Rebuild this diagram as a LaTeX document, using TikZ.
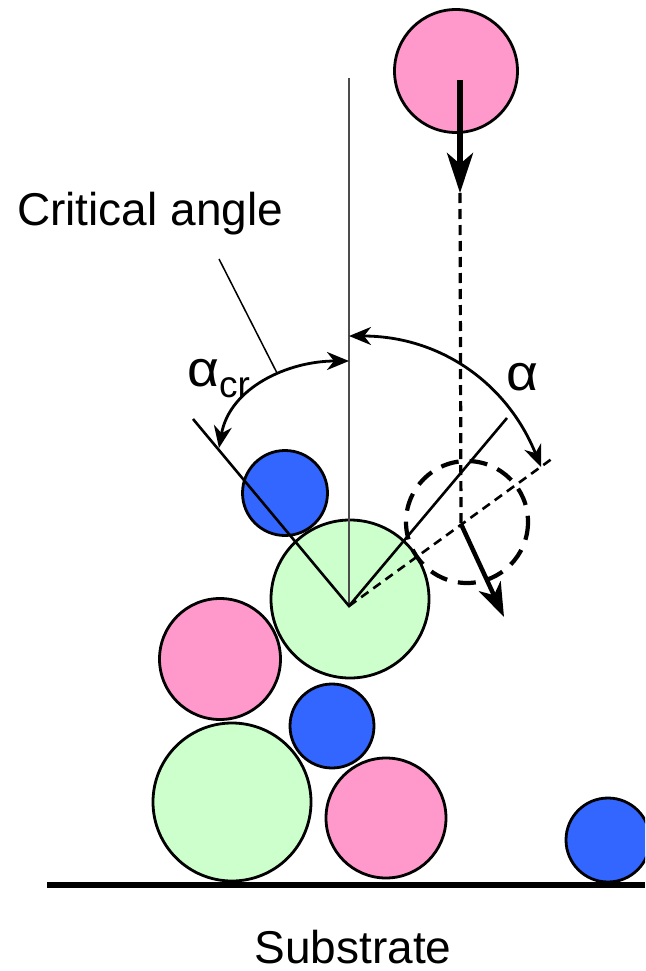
\documentclass[tikz,border=0pt]{standalone}
\usepackage{fontspec}
\setmainfont{Liberation Sans}
\usetikzlibrary{arrows.meta}
\definecolor{ppink}{HTML}{FF99CC}
\definecolor{pgreen}{HTML}{CCFFCC}
\definecolor{pblue}{HTML}{3366FF}
\tikzset{
  particle/.style={circle, draw=black, line width=2.8pt, inner sep=0, minimum size=#1},
  bigtext/.style={font=\fontsize{46}{55}\selectfont, inner sep=0},
  arcarrow/.style={line width=2.8pt, {Stealth[length=22pt,width=18pt,inset=7pt]}-{Stealth[length=22pt,width=18pt,inset=7pt]}},
  bigarrow/.style={line width=5.5pt, -{Stealth[length=40pt,width=26pt,inset=11pt]}},
  medarrow/.style={line width=4.5pt, -{Stealth[length=34pt,width=24pt,inset=10pt]}},
}
\begin{document}
\begin{tikzpicture}[x=1pt,y=-1pt]
\clip (0,0) rectangle (645,971);
\useasboundingbox (0,0) rectangle (645,971);

% particles
\node[particle=123, fill=ppink] (fall) at (456,71) {};
\node[particle=85, fill=pblue] (b1) at (285,493) {};
\node[particle=158, fill=pgreen] (g1) at (350,599) {};
\node[particle=121, fill=ppink] (p2) at (220,659) {};
\node[particle=84, fill=pblue] (b2) at (332,726) {};
\node[particle=158, fill=pgreen] (g2) at (232,802) {};
\node[particle=120, fill=ppink] (p3) at (386,818) {};
\node[particle=84, fill=pblue] (b3) at (608,840) {};

% key points
\coordinate (V) at (349,606);
\coordinate (T) at (349,78);
\coordinate (L) at (193,419);
\coordinate (R) at (507,418);
\coordinate (D) at (553,458);
\coordinate (F0) at (460,80);
\coordinate (F1) at (460,193);
\coordinate (P) at (461,524);
\coordinate (Q) at (504,617);
\coordinate (crA) at (219,448);
\coordinate (crB) at (349,361);
\coordinate (aA) at (349,336);
\coordinate (aB) at (541,467);
\coordinate (ldA) at (219,259);
\coordinate (ldB) at (277,373);
\coordinate (sL) at (47,885);
\coordinate (sR) at (645,885);

% dashed contact particle
\draw[line width=4.2pt, dash pattern=on 18pt off 11pt] (467,522) circle (61);

% vertical reference line
\draw[line width=1.8pt, black!70] (T) -- (V);

% angle lines
\draw[line width=2.6pt] (L) -- (V) -- (R);
\draw[line width=2.6pt, dash pattern=on 9pt off 6pt] (V) -- (D);

% falling trajectory
\draw[bigarrow] (F0) -- (F1);
\draw[line width=3.2pt, dash pattern=on 10pt off 6pt] (F1) -- (P);
\draw[medarrow] (P) -- (Q);

% angle arcs
\draw[arcarrow] (crA) to[out=80, in=180] (crB);
\draw[arcarrow] (aA) to[out=0, in=112] (aB);

% leader
\draw[line width=1.5pt] (ldA) -- (ldB);

% substrate
\draw[line width=5.5pt] (sL) -- (sR);

% labels
\node[bigtext, anchor=base west] (crit) at (17,225) {Critical angle};
\node[bigtext, anchor=base west] (acr) at (187,386) {\scalebox{1.2}[1.1]{α}\raisebox{-11pt}{\fontsize{37}{40}\selectfont cr}};
\node[bigtext, anchor=base west] (alpha) at (506,390) {\scalebox{1.2}[1.1]{α}};
\node[bigtext, anchor=base] (sub) at (353,963) {Substrate};
\end{tikzpicture}
\end{document}
